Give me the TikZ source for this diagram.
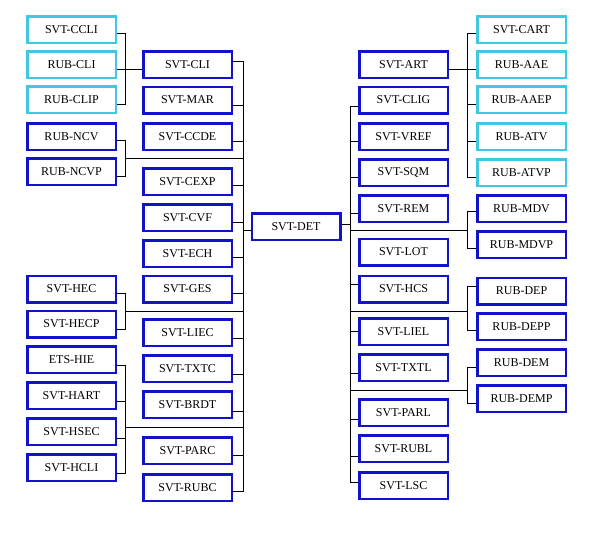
\documentclass[tikz,border=0pt]{standalone}
\usepackage{fontspec}
\setmainfont{Liberation Serif}
\usepackage{xcolor}
\usepackage{tikz}
\usetikzlibrary{positioning}

\definecolor{boxblue}{RGB}{18,18,200}
\definecolor{boxcyan}{RGB}{64,200,226}

\begin{document}
\begin{tikzpicture}[
    x=1pt, y=-1pt,
    tbl/.style={draw=boxblue, line width=2.5pt, fill=white, inner sep=0pt,
      minimum width=88.5pt, minimum height=26.5pt,
      font=\fontsize{12}{14}\selectfont},
    sub/.style={tbl, draw=boxcyan},
    every path/.style={line width=1pt}
  ]
  \useasboundingbox (0,0) rectangle (597,533);

  % Centre table
  \node[tbl] (det) at (296, 226.5) {SVT-DET};

  % Left outer column
  \node[sub] (ccli)  at (71.5,  29.5) {SVT-CCLI};
  \node[sub] (rcli)  at (71.5,  64.5) {RUB-CLI};
  \node[sub] (rclip) at (71.5,  99.5) {RUB-CLIP};
  \node[tbl] (ncv)   at (71.5, 136.5) {RUB-NCV};
  \node[tbl] (ncvp)  at (71.5, 171.5) {RUB-NCVP};
  \node[tbl] (hec)   at (71.5, 289)   {SVT-HEC};
  \node[tbl] (hecp)  at (71.5, 324)   {SVT-HECP};
  \node[tbl] (hie)   at (71.5, 359.5) {ETS-HIE};
  \node[tbl] (hart)  at (71.5, 395.5) {SVT-HART};
  \node[tbl] (hsec)  at (71.5, 431.5) {SVT-HSEC};
  \node[tbl] (hcli)  at (71.5, 467.5) {SVT-HCLI};

  % Left inner column
  \node[tbl] (cli)  at (187.5,  64.5) {SVT-CLI};
  \node[tbl] (mar)  at (187.5, 100)   {SVT-MAR};
  \node[tbl] (ccde) at (187.5, 136.5) {SVT-CCDE};
  \node[tbl] (cexp) at (187.5, 181.5) {SVT-CEXP};
  \node[tbl] (cvf)  at (187.5, 217.5) {SVT-CVF};
  \node[tbl] (ech)  at (187.5, 253.5) {SVT-ECH};
  \node[tbl] (ges)  at (187.5, 289)   {SVT-GES};
  \node[tbl] (liec) at (187.5, 332.5) {SVT-LIEC};
  \node[tbl] (txtc) at (187.5, 368.5) {SVT-TXTC};
  \node[tbl] (brdt) at (187.5, 404.5) {SVT-BRDT};
  \node[tbl] (parc) at (187.5, 450.5) {SVT-PARC};
  \node[tbl] (rubc) at (187.5, 487.5) {SVT-RUBC};

  % Right inner column
  \node[tbl] (art)  at (403.5,  64.5) {SVT-ART};
  \node[tbl] (clig) at (403.5, 100)   {SVT-CLIG};
  \node[tbl] (vref) at (403.5, 136.5) {SVT-VREF};
  \node[tbl] (sqm)  at (403.5, 172.5) {SVT-SQM};
  \node[tbl] (rem)  at (403.5, 208.5) {SVT-REM};
  \node[tbl] (lot)  at (403.5, 252)   {SVT-LOT};
  \node[tbl] (hcs)  at (403.5, 289)   {SVT-HCS};
  \node[tbl] (liel) at (403.5, 331.5) {SVT-LIEL};
  \node[tbl] (txtl) at (403.5, 367.5) {SVT-TXTL};
  \node[tbl] (parl) at (403.5, 412.5) {SVT-PARL};
  \node[tbl] (rubl) at (403.5, 448.5) {SVT-RUBL};
  \node[tbl] (lsc)  at (403.5, 485.5) {SVT-LSC};

  % Right outer column
  \node[sub] (cart) at (521.5,  29.5) {SVT-CART};
  \node[sub] (aae)  at (521.5,  64.5) {RUB-AAE};
  \node[sub] (aaep) at (521.5,  99.5) {RUB-AAEP};
  \node[sub] (atv)  at (521.5, 136.5) {RUB-ATV};
  \node[sub] (atvp) at (521.5, 172.5) {RUB-ATVP};
  \node[tbl] (mdv)  at (521.5, 208.5) {RUB-MDV};
  \node[tbl] (mdvp) at (521.5, 244.5) {RUB-MDVP};
  \node[tbl] (dep)  at (521.5, 291)   {RUB-DEP};
  \node[tbl] (depp) at (521.5, 326.5) {RUB-DEPP};
  \node[tbl] (dem)  at (521.5, 362.5) {RUB-DEM};
  \node[tbl] (demp) at (521.5, 398.5) {RUB-DEMP};

  % Junctions
  \coordinate (ja) at (125, 69);
  \coordinate (jb) at (125, 158);
  \coordinate (jc) at (125, 311);
  \coordinate (jd) at (125, 427);
  \coordinate (lj) at (243, 230);
  \coordinate (rj) at (350, 224);
  \coordinate (je) at (467, 69);
  \coordinate (jf) at (467, 230);
  \coordinate (jg) at (467, 311);
  \coordinate (jh) at (467, 390);

  % Left brackets
  \draw ([yshift=-3.5pt]ccli.east) -| (ja);
  \draw ([yshift=-5pt]rclip.east) -| (ja);
  \draw (rcli.east |- ja) -- (cli.west |- ja);
  \draw ([yshift=-3.5pt]ncv.east) -| (jb);
  \draw ([yshift=-4.5pt]ncvp.east) -| (jb);
  \draw (jb) -| (lj);
  \draw ([yshift=-4pt]hec.east) -| (jc);
  \draw ([yshift=-5pt]hecp.east) -| (jc);
  \draw (jc) -| (lj);
  \draw ([yshift=-5.5pt]hie.east) -| (jd);
  \draw ([yshift=-6pt]hart.east) -| (jd);
  \draw ([yshift=-6.5pt]hsec.east) -| (jd);
  \draw ([yshift=-5.5pt]hcli.east) -| (jd);
  \draw (jd) -| (lj);

  % Left bus
  \draw ([yshift=3.5pt]cli.east) -| (lj);
  \draw ([yshift=-5pt]mar.east) -| (lj);
  \draw ([yshift=-4.5pt]ccde.east) -| (lj);
  \draw ([yshift=-3.5pt]cexp.east) -| (lj);
  \draw ([yshift=-4.5pt]cvf.east) -| (lj);
  \draw ([yshift=-3.5pt]ech.east) -| (lj);
  \draw ([yshift=-4pt]ges.east) -| (lj);
  \draw ([yshift=-5.5pt]liec.east) -| (lj);
  \draw ([yshift=-5.5pt]txtc.east) -| (lj);
  \draw ([yshift=-6.5pt]brdt.east) -| (lj);
  \draw ([yshift=-4.5pt]parc.east) -| (lj);
  \draw ([yshift=-3.5pt]rubc.east) -| (lj);
  \draw (lj) -- (det.west |- lj);

  % Right bus
  \draw (det.east |- rj) -- (rj);
  \draw ([yshift=-6pt]clig.west) -| (rj);
  \draw ([yshift=-4.5pt]vref.west) -| (rj);
  \draw ([yshift=-4.5pt]sqm.west) -| (rj);
  \draw ([yshift=-4.5pt]rem.west) -| (rj);
  \draw ([yshift=5pt]hcs.west) -| (rj);
  \draw (liel.west) -| (rj);
  \draw ([yshift=-5.5pt]txtl.west) -| (rj);
  \draw ([yshift=-6.5pt]parl.west) -| (rj);
  \draw ([yshift=-7.5pt]rubl.west) -| (rj);
  \draw ([yshift=3.5pt]lsc.west) -| (rj);

  % Right brackets
  \draw ([yshift=-4.5pt]art.east) -- (je);
  \draw ([yshift=-3.5pt]cart.west) -| (je);
  \draw ([yshift=-4.5pt]aae.west) -| (je);
  \draw ([yshift=-4.5pt]aaep.west) -| (je);
  \draw ([yshift=-4.5pt]atv.west) -| (je);
  \draw ([yshift=-4.5pt]atvp.west) -| (je);
  \draw (rj |- jf) -- (jf);
  \draw ([yshift=-2.5pt]mdv.west) -| (jf);
  \draw ([yshift=-3.5pt]mdvp.west) -| (jf);
  \draw (rj |- jg) -- (jg);
  \draw ([yshift=5pt]dep.west) -| (jg);
  \draw ([yshift=-3.5pt]depp.west) -| (jg);
  \draw (rj |- jh) -- (jh);
  \draw ([yshift=-4.5pt]dem.west) -| (jh);
  \draw ([yshift=-4.5pt]demp.west) -| (jh);
\end{tikzpicture}
\end{document}
